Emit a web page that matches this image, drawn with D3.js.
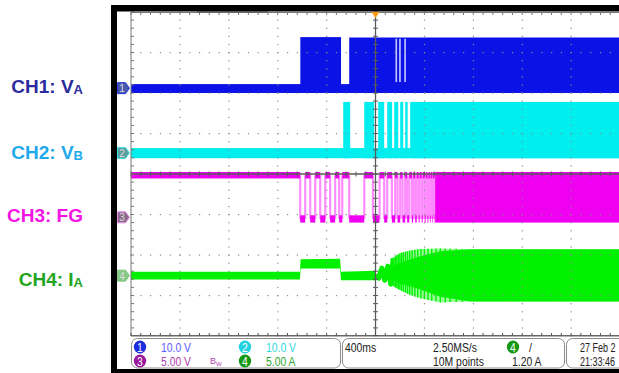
<!DOCTYPE html>
<html>
<head>
<meta charset="utf-8">
<script src="https://cdn.jsdelivr.net/npm/d3@7/dist/d3.min.js"></script>
<style>
  body { margin: 0; background: #fff; }
  svg { display: block; font-family: "Liberation Sans", Arial, sans-serif; }
  .panel text { font-family: "Liberation Sans", Arial, sans-serif; font-size: 13px; }
</style>
</head>
<body>
<div id="scope"></div>
<script>
// time in ms relative to trigger, 400 ms/div over 10 div
var timeDomain = [-2000, 2000]
var divDomain = [-4, 4]

// channel settings (units per div, ground marker position in div)
var chScale = [10, 10, 5, 5]
var chPosition = [2.12, 0.52, -1.07, -2.51]
var chNames = ['CH1: V', 'CH2: V', 'CH3: FG', 'CH4: I']
var chSubs = ['A', 'B', '', 'A']

// CH1 (V_A, volts)
var ch1Band = [-1.2, 1.0]
var ch1Bursts = [[-615, -282], [-215, 2000]]
var ch1BurstTop = [12.6, 12.5]
var ch1Dropouts = [170, 200, 242]

// CH2 (V_B, volts)
var ch2Band = [-1.3, 1.2]
var ch2High = 12.6
var ch2Pulses = [[-264, -207], [-92, -11], [22, 71], [96, 136], [153, 186], [202, 227], [243, 263], [284, 2000]]

// CH3 (FG, volts)
var ch3High = 5.2
var ch3Low = -0.2
var ch3Lows = [[-616, -575], [-534, -493], [-452, -411], [-371, -330], [-297, -272], [-215, -92],
  [-21, 33], [71, 96], [134, 161], [180, 202], [221, 243], [259, 276], [298, 308], [325, 337],
  [353, 361], [378, 386], [402, 410], [425, 432], [445, 451], [462, 467], [478, 482]]
var ch3SolidFrom = 488

// CH4 (I_A, amps)
var ch4BaseT = [-2000, -618, -612, -290, -282, 0]
var ch4BaseTop = [0.47, 0.47, 2.04, 2.1, 0.47, 0.6]
var ch4BaseBot = [-0.47, -0.47, 0.89, 0.89, -0.56, -0.56]
var ch4WiggleT = [0, 26, 52, 75, 100, 124, 145]
var ch4WiggleV = [0.06, -0.31, 0.93, -0.56, 1.17, -1.05, 2.16]
var ch4DenseT = [145, 202, 284, 366, 529, 774, 2000]
var ch4DenseTop = [2.2, 2.8, 3.1, 3.3, 3.35, 3.27, 3.27]
var ch4DenseBot = [-1.3, -1.8, -2.4, -2.8, -3.3, -3.2, -3.2]
var ch4CoreTop = [1.2, 1.6, 2.0, 2.4, 3.0, 3.27, 3.27]
var ch4CoreBot = [-0.6, -1.0, -1.3, -1.7, -2.6, -3.2, -3.2]
var ch4Strokes = [150, 162, 175, 188, 200, 214, 228, 245, 262, 280, 300, 322, 345, 372, 400, 430, 460, 495, 530, 570, 610, 660, 710]

// status bar texts
var vertSettings = [['1', '10.0 V'], ['2', '10.0 V'], ['3', '5.00 V'], ['4', '5.00 A']]
var timebase = ['400ms', '2.50MS/s', '10M points']
var trigger = ['4', '/', '1.20 A']
var stamp = ['27 Feb 2', '21:33:46']

var traceColors = ['#0a12e6', '#00eeee', '#f000f0', '#00f000']
var labelColors = ['#2b2b9c', '#1eaaea', '#f414e4', '#22a622']
var badgeColors = ['#1c2ce0', '#22d0e0', '#9a189a', '#149814']
var textColors = ['#5a5aff', '#30d8e0', '#b040b0', '#30a830']

var svg = d3.select('#scope').append('svg')
  .attr('width', 619)
  .attr('height', 373)

var x = d3.scaleLinear().domain(timeDomain).range([131, 620])
var y = d3.scaleLinear().domain(divDomain).range([336, 12])

function yv(ch, v) { return y(chPosition[ch] + v / chScale[ch]) }

svg.append('clipPath').attr('id', 'plot-clip')
  .append('rect').attr('x', 131).attr('y', 12).attr('width', 489).attr('height', 324)

var traces = svg.append('g').attr('clip-path', 'url(#plot-clip)')

// ---- CH1
var g1 = traces.append('g').attr('fill', traceColors[0])
g1.append('rect')
  .attr('x', x(-2000)).attr('width', x(2000) - x(-2000))
  .attr('y', yv(0, ch1Band[1])).attr('height', yv(0, ch1Band[0]) - yv(0, ch1Band[1]))
g1.selectAll('.burst').data(ch1Bursts).enter().append('rect')
  .attr('class', 'burst')
  .attr('x', function(d){ return x(d[0]) })
  .attr('width', function(d){ return x(d[1]) - x(d[0]) })
  .attr('y', function(d, i){ return yv(0, ch1BurstTop[i]) })
  .attr('height', function(d, i){ return yv(0, ch1Band[0]) - yv(0, ch1BurstTop[i]) })
g1.selectAll('.drop').data(ch1Dropouts).enter().append('line')
  .attr('class', 'drop')
  .attr('x1', function(d){ return x(d) }).attr('x2', function(d){ return x(d) })
  .attr('y1', yv(0, 12.2)).attr('y2', yv(0, 1.5))
  .style('stroke', '#c4c8ff').style('stroke-width', 1.6)

// ---- CH2
var g2 = traces.append('g').attr('fill', traceColors[1])
g2.append('rect')
  .attr('x', x(-2000)).attr('width', x(2000) - x(-2000))
  .attr('y', yv(1, ch2Band[1])).attr('height', yv(1, ch2Band[0]) - yv(1, ch2Band[1]))
g2.selectAll('.pulse').data(ch2Pulses).enter().append('rect')
  .attr('class', 'pulse')
  .attr('x', function(d){ return x(d[0]) })
  .attr('width', function(d){ return x(d[1]) - x(d[0]) })
  .attr('y', yv(1, ch2High))
  .attr('height', yv(1, ch2Band[0]) - yv(1, ch2High))

// ---- CH3
var g3 = traces.append('g')
var ch3Highs = []
var prev = -2000
ch3Lows.forEach(function(d){ ch3Highs.push([prev, d[0]]); prev = d[1] })
ch3Highs.push([prev, ch3SolidFrom])

g3.append('rect')
  .attr('x', x(400)).attr('width', x(ch3SolidFrom) - x(400))
  .attr('y', yv(2, ch3High)).attr('height', yv(2, ch3Low) - yv(2, ch3High))
  .style('fill', '#ffb4ff')
g3.selectAll('.edge').data(ch3Lows.flat()).enter().append('line')
  .attr('class', 'edge')
  .attr('x1', function(d){ return x(d) }).attr('x2', function(d){ return x(d) })
  .attr('y1', yv(2, ch3High)).attr('y2', yv(2, ch3Low))
  .style('stroke', '#ff8cff').style('stroke-width', 2.2)
g3.selectAll('.hi').data(ch3Highs).enter().append('rect')
  .attr('class', 'hi')
  .attr('x', function(d){ return x(d[0]) })
  .attr('width', function(d){ return x(d[1]) - x(d[0]) })
  .attr('y', yv(2, ch3High + 0.4)).attr('height', yv(2, ch3High - 0.4) - yv(2, ch3High + 0.4))
  .style('fill', traceColors[2])
g3.selectAll('.lo').data(ch3Lows).enter().append('rect')
  .attr('class', 'lo')
  .attr('x', function(d){ return x(d[0]) })
  .attr('width', function(d){ return x(d[1]) - x(d[0]) })
  .attr('y', yv(2, ch3Low + 0.45)).attr('height', yv(2, ch3Low - 0.45) - yv(2, ch3Low + 0.45))
  .style('fill', traceColors[2])
g3.append('rect')
  .attr('x', x(ch3SolidFrom)).attr('width', x(2000) - x(ch3SolidFrom))
  .attr('y', yv(2, ch3High + 0.4)).attr('height', yv(2, ch3Low - 0.45) - yv(2, ch3High + 0.4))
  .style('fill', traceColors[2])

// ---- CH4
var g4 = traces.append('g')
var area4 = function(t, top, bot) {
  return d3.area()
    .x(function(d, i){ return x(t[i]) })
    .y0(function(d, i){ return yv(3, bot[i]) })
    .y1(function(d, i){ return yv(3, top[i]) })(t)
}
g4.append('path').attr('d', area4(ch4BaseT, ch4BaseTop, ch4BaseBot)).style('fill', traceColors[3])
g4.append('path')
  .attr('d', d3.line().x(function(d, i){ return x(ch4WiggleT[i]) }).y(function(d){ return yv(3, d) })(ch4WiggleV))
  .style('fill', 'none').style('stroke', traceColors[3]).style('stroke-width', 5).style('stroke-linejoin', 'round')
g4.append('path').attr('d', area4(ch4DenseT, ch4DenseTop, ch4DenseBot)).style('fill', '#98ff98')
g4.append('path').attr('d', area4(ch4DenseT, ch4CoreTop, ch4CoreBot)).style('fill', traceColors[3])
var denseTop = d3.scaleLinear().domain(ch4DenseT).range(ch4DenseTop)
var denseBot = d3.scaleLinear().domain(ch4DenseT).range(ch4DenseBot)
g4.selectAll('.stroke').data(ch4Strokes).enter().append('line')
  .attr('class', 'stroke')
  .attr('x1', function(d){ return x(d) }).attr('x2', function(d){ return x(d) })
  .attr('y1', function(d){ return yv(3, denseTop(d)) })
  .attr('y2', function(d){ return yv(3, denseBot(d)) })
  .style('stroke', traceColors[3]).style('stroke-width', 1.4)

// ---- graticule (drawn over the traces)
var grid = svg.append('g')
var minorT = d3.range(-2000, 2001, 80)
var minorD = d3.range(-20, 21).map(function(d){ return d / 5 })
var majorT = [-1600, -1200, -800, -400, 400, 800, 1200, 1600]
var majorD = [-3, -2, -1, 1, 2, 3]

majorT.forEach(function(t){
  grid.selectAll(null).data(minorD).enter().append('rect')
    .attr('x', x(t) - 0.5).attr('y', function(d){ return y(d) - 0.5 })
    .attr('width', 1.2).attr('height', 1.2).style('fill', '#8a8a8a')
})
majorD.forEach(function(dv){
  grid.selectAll(null).data(minorT).enter().append('rect')
    .attr('x', function(d){ return x(d) - 0.5 }).attr('y', y(dv) - 0.5)
    .attr('width', 1.2).attr('height', 1.2).style('fill', '#8a8a8a')
})

// centre cross with ticks
grid.append('line').attr('x1', x(0)).attr('x2', x(0)).attr('y1', y(4)).attr('y2', y(-4))
  .style('stroke', '#5a5a5a').style('stroke-width', 1.3)
grid.append('line').attr('x1', x(-2000)).attr('x2', x(2000)).attr('y1', y(0)).attr('y2', y(0))
  .style('stroke', '#5a5a5a').style('stroke-width', 1.3)
grid.selectAll('.vt').data(minorD).enter().append('line')
  .attr('x1', x(0) - 2.5).attr('x2', x(0) + 2.5)
  .attr('y1', function(d){ return y(d) }).attr('y2', function(d){ return y(d) })
  .style('stroke', '#5a5a5a')
grid.selectAll('.ht').data(minorT).enter().append('line')
  .attr('x1', function(d){ return x(d) }).attr('x2', function(d){ return x(d) })
  .attr('y1', y(0) - 2.5).attr('y2', y(0) + 2.5)
  .style('stroke', '#5a5a5a')

// border with inward ticks
grid.append('line').attr('x1', x(-2000)).attr('x2', x(-2000)).attr('y1', y(4)).attr('y2', y(-4))
  .style('stroke', '#777')
grid.append('line').attr('x1', x(-2000)).attr('x2', x(2000)).attr('y1', y(4) + 0.5).attr('y2', y(4) + 0.5)
  .style('stroke', '#777')
grid.append('line').attr('x1', x(-2000)).attr('x2', x(2000)).attr('y1', y(-4)).attr('y2', y(-4))
  .style('stroke', '#333').style('stroke-width', 1.5)
grid.selectAll('.lt').data(minorD).enter().append('line')
  .attr('x1', x(-2000)).attr('x2', x(-2000) + 3)
  .attr('y1', function(d){ return y(d) }).attr('y2', function(d){ return y(d) })
  .style('stroke', '#777')
grid.selectAll('.tt').data(minorT).enter().append('line')
  .attr('x1', function(d){ return x(d) }).attr('x2', function(d){ return x(d) })
  .attr('y1', y(4)).attr('y2', y(4) + 3)
  .style('stroke', '#777')
grid.selectAll('.bt').data(minorT).enter().append('line')
  .attr('x1', function(d){ return x(d) }).attr('x2', function(d){ return x(d) })
  .attr('y1', y(-4)).attr('y2', y(-4) - 3)
  .style('stroke', '#555')

// trigger position marker
grid.append('path')
  .attr('d', 'M' + (x(0) - 4) + ',' + y(4) + 'h8l-4,6z')
  .style('fill', '#ff9a10')

// ---- frame
svg.append('rect').attr('x', 111).attr('y', 5).attr('width', 6).attr('height', 368).style('fill', '#000')
svg.append('rect').attr('x', 111).attr('y', 5).attr('width', 508).attr('height', 6.5).style('fill', '#000')
svg.append('rect').attr('x', 111).attr('y', 369).attr('width', 508).attr('height', 4).style('fill', '#000')
svg.append('line').attr('x1', 197).attr('x2', 268).attr('y1', 11.8).attr('y2', 11.8)
  .style('stroke', '#444').style('stroke-width', 1)

// ---- ground markers
var markerFill = ['#4a58aa', '#5a9e9e', '#8a6a8a', '#86c886']
var markerStroke = ['#2a3ae8', '#40e8e8', '#f090f0', '#86c886']
var markers = svg.append('g').selectAll('g').data([0, 1, 2, 3]).enter().append('g')
  .attr('transform', function(d){ return 'translate(117,' + yv(d, 0) + ')' })
markers.append('path')
  .attr('d', 'M0.5,-5.5h8l4,5.5l-4,5.5h-8z')
  .style('fill', function(d){ return markerFill[d] })
  .style('stroke', function(d){ return markerStroke[d] })
markers.append('text')
  .attr('x', 5).attr('y', 4)
  .attr('text-anchor', 'middle')
  .style('font-size', '10px')
  .style('fill', '#ddd')
  .text(function(d){ return d + 1 })

// ---- channel labels
var labelY = [93, 159, 222, 286]
var labels = svg.append('g').selectAll('text').data(chNames).enter().append('text')
  .attr('x', 83)
  .attr('y', function(d, i){ return labelY[i] })
  .attr('text-anchor', 'end')
  .style('font-size', '19px')
  .style('font-weight', 'bold')
  .style('fill', function(d, i){ return labelColors[i] })
labels.append('tspan').text(function(d){ return d })
labels.append('tspan')
  .attr('dy', 1)
  .style('font-size', '13px')
  .text(function(d, i){ return chSubs[i] })

// ---- status panel
var panel = svg.append('g').attr('class', 'panel')
panel.append('rect').attr('x', 117).attr('y', 336.5).attr('width', 502).attr('height', 32.5).style('fill', '#fff')
var boxes = [[131, 340], [342, 564], [566, 650]]
panel.selectAll('.box').data(boxes).enter().append('rect')
  .attr('class', 'box')
  .attr('x', function(d){ return d[0] + 0.5 }).attr('y', 338.5)
  .attr('width', function(d){ return d[1] - d[0] }).attr('height', 29.5)
  .attr('rx', 6)
  .style('fill', 'none').style('stroke', '#8c8c8c')

// narrow scope font: squeeze regular text horizontally
function narrowText(px, py, str, color, anchor, sx) {
  return panel.append('text')
    .attr('transform', 'translate(' + px + ',' + py + ') scale(' + (sx || 0.8) + ',1)')
    .attr('text-anchor', anchor || 'start')
    .style('fill', color)
    .text(str)
}

var badgeX = [140, 245, 140, 245]
var badgeY = [347, 347, 361, 361]
vertSettings.forEach(function(d, i){
  var ch = +d[0] - 1
  panel.append('ellipse')
    .attr('cx', badgeX[i]).attr('cy', badgeY[i])
    .attr('rx', 6.2).attr('ry', 6.5)
    .style('fill', badgeColors[ch])
  narrowText(badgeX[i], badgeY[i] + 4.5, d[0], '#fff', 'middle')
  narrowText(badgeX[i] + 21, badgeY[i] + 4.5, d[1], textColors[ch])
})

// bandwidth-limit mark
var bw = panel.append('text').attr('x', 210).attr('y', 364).style('fill', '#b040b0').style('font-size', '9px')
bw.append('tspan').text('B')
bw.append('tspan').attr('dy', 2).style('font-size', '6px').text('W')

narrowText(345, 351.5, timebase[0], '#222')
narrowText(433, 351.5, timebase[1], '#222')
narrowText(433, 365.5, timebase[2], '#222')

panel.append('ellipse').attr('cx', 513).attr('cy', 347).attr('rx', 6.2).attr('ry', 6.5).style('fill', badgeColors[3])
narrowText(513, 351.5, trigger[0], '#fff', 'middle')
narrowText(529, 351.5, trigger[1], '#222')
narrowText(512, 365.5, trigger[2], '#222')

narrowText(580, 351.5, stamp[0], '#222', 'start', 0.72).style('font-size', '12.5px')
narrowText(580, 365.5, stamp[1], '#222', 'start', 0.72).style('font-size', '12.5px')
</script>
</body>
</html>
